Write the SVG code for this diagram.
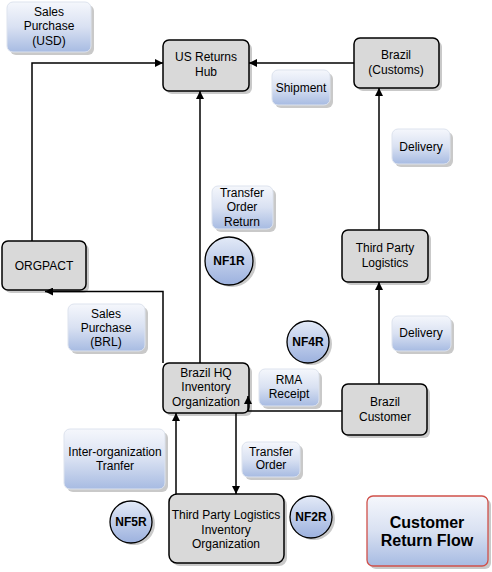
<svg xmlns="http://www.w3.org/2000/svg" width="492" height="572" viewBox="0 0 492 572">
<defs>
<linearGradient id="lbl" x1="0" y1="0" x2="0" y2="1">
<stop offset="0" stop-color="#f5f7fc"/>
<stop offset="0.5" stop-color="#d9e1f2"/>
<stop offset="1" stop-color="#a7bbe2"/>
</linearGradient>
<linearGradient id="circ" x1="0" y1="0" x2="0" y2="1">
<stop offset="0" stop-color="#e3eaf7"/>
<stop offset="1" stop-color="#9cb1de"/>
</linearGradient>
<marker id="arr" viewBox="0 0 10 10" refX="10" refY="5" markerWidth="10" markerHeight="8" markerUnits="userSpaceOnUse" orient="auto">
<path d="M0,0 L10,5 L0,10 z" fill="#000"/>
</marker>
</defs>
<style>
.node rect.b{fill:#d9d9d9;stroke:#000;stroke-width:1.5}
.sh{fill:#c9c9c9}
.lbl rect.b{fill:url(#lbl);stroke:#dde3ee;stroke-width:1}
.nf circle.b{fill:url(#circ);stroke:#000;stroke-width:1.3}
text{font-family:"Liberation Sans",Arial,sans-serif;font-size:12px;fill:#000;text-anchor:middle}
.nf text{font-weight:bold}
.title text{font-weight:bold;font-size:16px}
.conn path{fill:none;stroke:#000;stroke-width:1.5;marker-end:url(#arr)}
</style>
<rect width="492" height="572" fill="#fff"/>

<g id="sales-usd" class="lbl"><rect class="sh" x="10" y="5" width="84" height="50" rx="6"/><rect class="b" x="7" y="2" width="84" height="50" rx="6"/><text x="49" y="16">Sales</text><text x="49" y="30">Purchase</text><text x="49" y="45">(USD)</text></g>

<g id="us-hub" class="node"><rect class="sh" x="166" y="43" width="86" height="51" rx="6"/><rect class="b" x="163" y="40" width="86" height="51" rx="6"/><text x="206" y="61">US Returns</text><text x="206" y="76">Hub</text></g>

<g id="brazil-customs" class="node"><rect class="sh" x="357" y="41" width="85" height="50" rx="6"/><rect class="b" x="354" y="38" width="85" height="50" rx="6"/><text x="396" y="59">Brazil</text><text x="396" y="74">(Customs)</text></g>

<g id="shipment" class="lbl"><rect class="sh" x="275" y="73" width="58" height="35" rx="6"/><rect class="b" x="272" y="70" width="58" height="35" rx="6"/><text x="301" y="92">Shipment</text></g>

<g id="delivery1" class="lbl"><rect class="sh" x="395" y="132" width="58" height="35" rx="6"/><rect class="b" x="392" y="129" width="58" height="35" rx="6"/><text x="421" y="151">Delivery</text></g>

<g id="transfer-order-return" class="lbl"><rect class="sh" x="215" y="189" width="61" height="43" rx="6"/><rect class="b" x="212" y="186" width="61" height="43" rx="6"/><text x="242" y="197">Transfer</text><text x="242" y="211">Order</text><text x="242" y="226">Return</text></g>

<g id="nf1r" class="nf"><circle class="sh" cx="232" cy="263" r="24"/><circle class="b" cx="229" cy="261" r="24"/><text x="229" y="265">NF1R</text></g>

<g id="third-party-logistics" class="node"><rect class="sh" x="345" y="233" width="86" height="52" rx="6"/><rect class="b" x="342" y="230" width="86" height="52" rx="6"/><text x="385" y="252">Third Party</text><text x="385" y="267">Logistics</text></g>

<g id="orgpact" class="node"><rect class="sh" x="5" y="244" width="84" height="49" rx="6"/><rect class="b" x="2" y="241" width="84" height="49" rx="6"/><text x="44" y="270">ORGPACT</text></g>

<g id="sales-brl" class="lbl"><rect class="sh" x="71" y="307" width="77" height="47" rx="6"/><rect class="b" x="68" y="304" width="77" height="47" rx="6"/><text x="106" y="318">Sales</text><text x="106" y="332">Purchase</text><text x="106" y="346">(BRL)</text></g>

<g id="delivery2" class="lbl"><rect class="sh" x="395" y="319" width="59" height="35" rx="6"/><rect class="b" x="392" y="316" width="59" height="35" rx="6"/><text x="421" y="337">Delivery</text></g>

<g id="nf4r" class="nf"><circle class="sh" cx="311" cy="344" r="21"/><circle class="b" cx="308" cy="342" r="21"/><text x="308" y="346">NF4R</text></g>

<g id="rma-receipt" class="lbl"><rect class="sh" x="262" y="372" width="60" height="37" rx="6"/><rect class="b" x="259" y="369" width="60" height="37" rx="6"/><text x="289" y="384">RMA</text><text x="289" y="398">Receipt</text></g>

<g id="brazil-hq" class="node"><rect class="sh" x="166" y="366" width="86" height="50" rx="6"/><rect class="b" x="163" y="363" width="86" height="50" rx="6"/><text x="206" y="377">Brazil HQ</text><text x="206" y="391">Inventory</text><text x="206" y="406">Organization</text></g>

<g id="brazil-customer" class="node"><rect class="sh" x="345" y="387" width="85" height="51" rx="6"/><rect class="b" x="342" y="384" width="85" height="51" rx="6"/><text x="385" y="406">Brazil</text><text x="385" y="421">Customer</text></g>

<g id="inter-org" class="lbl"><rect class="sh" x="67" y="432" width="101" height="60" rx="6"/><rect class="b" x="64" y="429" width="101" height="60" rx="6"/><text x="115" y="456">Inter-organization</text><text x="115" y="470">Tranfer</text></g>

<g id="transfer-order" class="lbl"><rect class="sh" x="245" y="445" width="58" height="35" rx="6"/><rect class="b" x="242" y="442" width="58" height="35" rx="6"/><text x="271" y="456">Transfer</text><text x="271" y="469">Order</text></g>

<g id="nf5r" class="nf"><circle class="sh" cx="134" cy="524" r="21"/><circle class="b" cx="131" cy="522" r="21"/><text x="131" y="526">NF5R</text></g>

<g id="tpl-inventory" class="node"><rect class="sh" x="172" y="497" width="115" height="69" rx="8"/><rect class="b" x="169" y="494" width="115" height="69" rx="8"/><text x="226" y="519">Third Party Logistics</text><text x="226" y="534">Inventory</text><text x="226" y="548">Organization</text></g>

<g id="nf2r" class="nf"><circle class="sh" cx="314" cy="519" r="21"/><circle class="b" cx="311" cy="517" r="21"/><text x="311" y="521">NF2R</text></g>

<g id="customer-return-flow" class="title"><rect x="370" y="499" width="121" height="70" rx="6" fill="#c9c9c9"/><rect x="367" y="496" width="121" height="70" rx="6" fill="url(#lbl)" stroke="#d0504a" stroke-width="1.3"/><text x="427" y="528">Customer</text><text x="427" y="546">Return Flow</text></g>

<g id="connectors" class="conn">
<path d="M354,63 H249"/>
<path d="M379,230 V88"/>
<path d="M379,384 V282"/>
<path d="M200,363 V91"/>
<path d="M163,363 V291.5 H45"/>
<path d="M32,241 V63 H163"/>
<path d="M342,411 H248 V396"/>
<path d="M236,413 V494"/>
<path d="M176,494 V413"/>
</g>
</svg>
